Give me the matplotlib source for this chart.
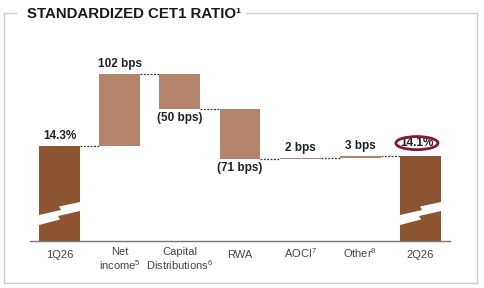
"""Standardized CET1 ratio walk, 1Q26 -> 2Q26 (waterfall with broken total bars)."""
import matplotlib
matplotlib.use("Agg")
import matplotlib.pyplot as plt
from matplotlib.lines import Line2D
from matplotlib.patches import Ellipse, Polygon
from matplotlib.transforms import offset_copy

plt.rcParams["font.family"] = ["Liberation Sans", "DejaVu Sans"]
plt.rcParams["mathtext.default"] = "regular"

# data (bps)
categories = ["1Q26", "Net\nincome$^5$", "Capital\nDistributions$^6$", "RWA",
              "AOCI$^7$", "Other$^8$", "2Q26"]
start_value = 1430
deltas = [102, -50, -71, 2, 3]
delta_labels = ["102 bps", "(50 bps)", "(71 bps)", "2 bps", "3 bps"]
start_label = "14.3%"
end_label = "14.1%"

DARK = "#8c5431"
LIGHT = "#b3846a"
W, H = 484, 288

fig = plt.figure(figsize=(W / 100, H / 100), dpi=100)
ax = fig.add_axes([30 / W, 47 / H, 420 / W, 201 / H])
base = 1295.4
ax.set_xlim(-0.49, 6.49)
ax.set_ylim(base, 1580)
bw = 0.68

# totals and floating deltas
levels = [start_value]
for d in deltas:
    levels.append(levels[-1] + d)
end_value = levels[-1]

ax.bar(0, start_value - base, bottom=base, width=bw, color=DARK, zorder=2)
ax.bar(6, end_value - base, bottom=base, width=bw, color=DARK, zorder=2)
for i, d in enumerate(deltas):
    lo = min(levels[i], levels[i + 1])
    ax.bar(i + 1, abs(d), bottom=lo, width=bw, color=LIGHT, zorder=2)

# dotted connectors
for i in range(6):
    ax.plot([i + bw / 2, i + 1 - bw / 2], [levels[min(i, 5)]] * 2,
            ls=(0, (1.5, 1.2)), color="#333333", lw=0.9, zorder=3)

# value labels
lab = dict(ha="center", va="center", fontsize=8.5, fontweight="bold", color="#222222")
ax.text(0, start_value + 13.5, start_label, **lab)
for i, d in enumerate(deltas):
    top = max(levels[i], levels[i + 1])
    lo = min(levels[i], levels[i + 1])
    if d >= 0:
        ax.text(i + 1, top + 13.5, delta_labels[i], **lab)
    else:
        ax.text(i + 1, lo - 12.5, delta_labels[i], **lab)
ax.text(5.94, end_value + 18, end_label, **lab)
ax.add_patch(Ellipse((5.94, end_value + 18), 0.70, 18.5, fill=False,
                     ec="#8a1538", lw=2, zorder=4))

# lightning break on the total bars
bolt = [(0, 215), (22, 210), (20, 206.5), (41, 202),
        (41, 211), (19, 216), (21, 219.5), (0, 225)]
px_x = 420 / 6.98
px_y = 201 / (1580 - base)
for c in (0, 6):
    pts = [(c - bw / 2 + bx / px_x, base + (241 - by) / px_y) for bx, by in bolt]
    ax.add_patch(Polygon(pts, closed=True, fc="white", ec="none", zorder=3))

# category labels (baseline of the last line placed below the axis line)
ax.set_xticks([])
for i, name in enumerate(categories):
    drop = 29 if "\n" in name else 17
    tr = offset_copy(ax.get_xaxis_transform(), fig=fig, y=-drop, units="dots")
    ax.text(i, 0, name, transform=tr, ha="center", va="baseline", fontsize=8,
            color="#444444", linespacing=1.1)
ax.set_yticks([])
for s in ("top", "right", "left"):
    ax.spines[s].set_visible(False)
ax.spines["bottom"].set_color("#777777")
ax.spines["bottom"].set_linewidth(1)

# panel frame and title
fc = "#cccccc"
def fline(x0, y0, x1, y1):
    fig.add_artist(Line2D([x0 / W, x1 / W], [1 - y0 / H, 1 - y1 / H], color=fc, lw=1))
fline(3.5, 13.3, 3.5, 283.3)
fline(3.5, 283.3, 476.7, 283.3)
fline(476.7, 283.3, 476.7, 13.3)
fline(476.7, 13.3, 246, 13.3)
fline(16, 13.3, 3.5, 13.3)
fig.text(26.7 / W, 1 - 18.3 / H, "STANDARDIZED CET1 RATIO\u00b9", fontsize=10.8,
         fontweight="bold", color="#1a1a1a", ha="left", va="baseline")

fig.savefig("out.png", dpi=100)
